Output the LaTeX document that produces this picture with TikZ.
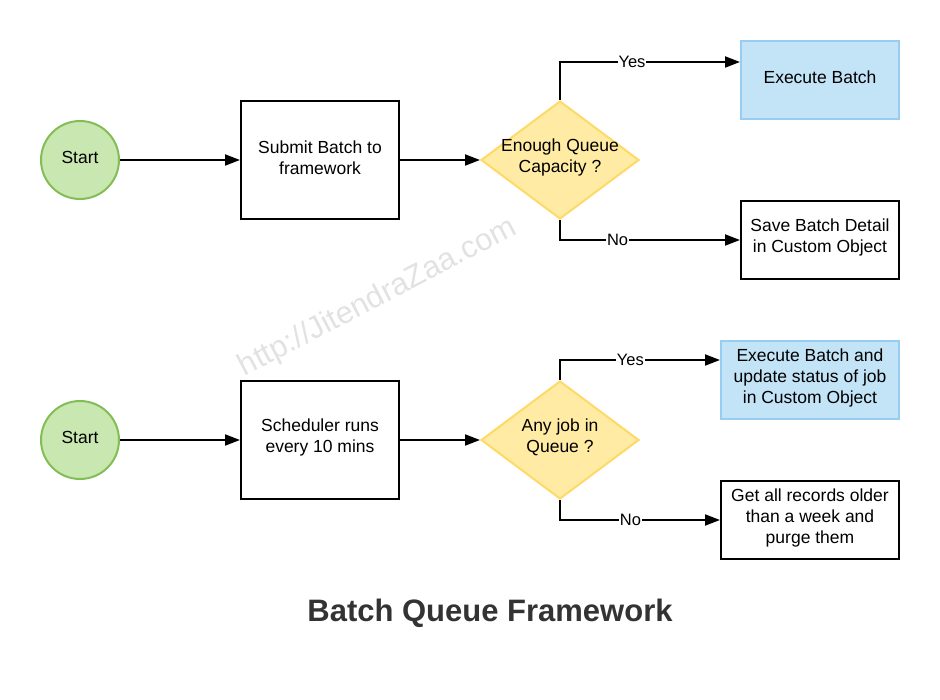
\documentclass[tikz,border=0pt]{standalone}
\usepackage{fontspec}
\setmainfont{Liberation Sans}
\usetikzlibrary{shapes.geometric,arrows.meta}
\definecolor{gfill}{HTML}{C9E7B0}
\definecolor{gline}{HTML}{82BE55}
\definecolor{bfill}{HTML}{C3E4F7}
\definecolor{bline}{HTML}{96CDF0}
\definecolor{yfill}{HTML}{FFEBA3}
\definecolor{yline}{HTML}{FFD966}
\definecolor{titlec}{HTML}{333333}
\definecolor{wmark}{HTML}{E2E2E2}
\tikzset{
  nodetext/.style={font=\fontsize{17.5}{21}\selectfont, align=center, text=black, yshift=2.5pt},
  startnode/.style={circle, draw=gline, fill=gfill, line width=2pt, minimum size=78pt, inner sep=0pt},
  procbox/.style={rectangle, draw=black, line width=2pt, fill=white, minimum width=158pt, minimum height=118pt, inner sep=0pt},
  endbox/.style={rectangle, draw=black, line width=2pt, fill=white, minimum width=158pt, minimum height=78pt, inner sep=0pt},
  bluebox/.style={rectangle, draw=bline, fill=bfill, line width=2pt, minimum width=158pt, minimum height=78pt, inner sep=0pt},
  decision/.style={diamond, draw=yline, fill=yfill, line width=2pt, minimum width=158pt, minimum height=118pt, inner sep=0pt},
  conn/.style={line width=2pt, -{Triangle[length=15pt,width=11pt]}},
  lbl/.style={fill=white, inner sep=1pt, font=\fontsize{16.5}{20}\selectfont, text=black}
}
\begin{document}
\begin{tikzpicture}[x=1pt,y=-1pt]
\useasboundingbox (0,0) rectangle (940,700);
% watermark
\node[rotate=27.5, text=wmark, font=\fontsize{31}{37}\selectfont] (wm) at (378,298) {http://JitendraZaa.com};

% row 1
\node[startnode, label={[nodetext]center:Start}] (s1) at (80,160) {};
\node[procbox, label={[nodetext]center:{Submit Batch to\\framework}}] (p1) at (320,160) {};
\node[decision, label={[nodetext]center:{Enough Queue\\Capacity ?}}] (d1) at (560,160) {};
\node[bluebox, label={[nodetext]center:Execute Batch}] (e1) at (820,80) {};
\node[endbox, label={[nodetext]center:{Save Batch Detail\\in Custom Object}}] (f1) at (820,240) {};
\coordinate (y1) at (560,62);
\coordinate (n1) at (560,240);
\draw[conn] (s1) -- (p1);
\draw[conn] (p1) -- (d1);
\draw[conn] (d1.north) -- (y1) -- node[lbl, pos=0.4] (ly1) {Yes} (y1 -| e1.west);
\draw[conn] (d1.south) -- (n1) -- node[lbl, pos=0.32] (ln1) {No} (n1 -| f1.west);

% row 2
\node[startnode, label={[nodetext]center:Start}] (s2) at (80,440) {};
\node[procbox, label={[nodetext]center:{Scheduler runs\\every 10 mins}}] (p2) at (320,440) {};
\node[decision, label={[nodetext]center:{Any job in\\Queue ?}}] (d2) at (560,440) {};
\node[bluebox, minimum width=178pt, label={[nodetext]center:{Execute Batch and\\update status of job\\in Custom Object}}] (e2) at (810,380) {};
\node[endbox, minimum width=178pt, label={[nodetext]center:{Get all records older\\than a week and\\purge them}}] (f2) at (810,520) {};
\coordinate (y2) at (560,360);
\coordinate (n2) at (560,520);
\draw[conn] (s2) -- (p2);
\draw[conn] (p2) -- (d2);
\draw[conn] (d2.north) -- (y2) -- node[lbl, pos=0.44] (ly2) {Yes} (y2 -| e2.west);
\draw[conn] (d2.south) -- (n2) -- node[lbl, pos=0.44] (ln2) {No} (n2 -| f2.west);

% title
\node[font=\bfseries\fontsize{31}{37}\selectfont, text=titlec] (title) at (490,613) {Batch Queue Framework};
\end{tikzpicture}
\end{document}
